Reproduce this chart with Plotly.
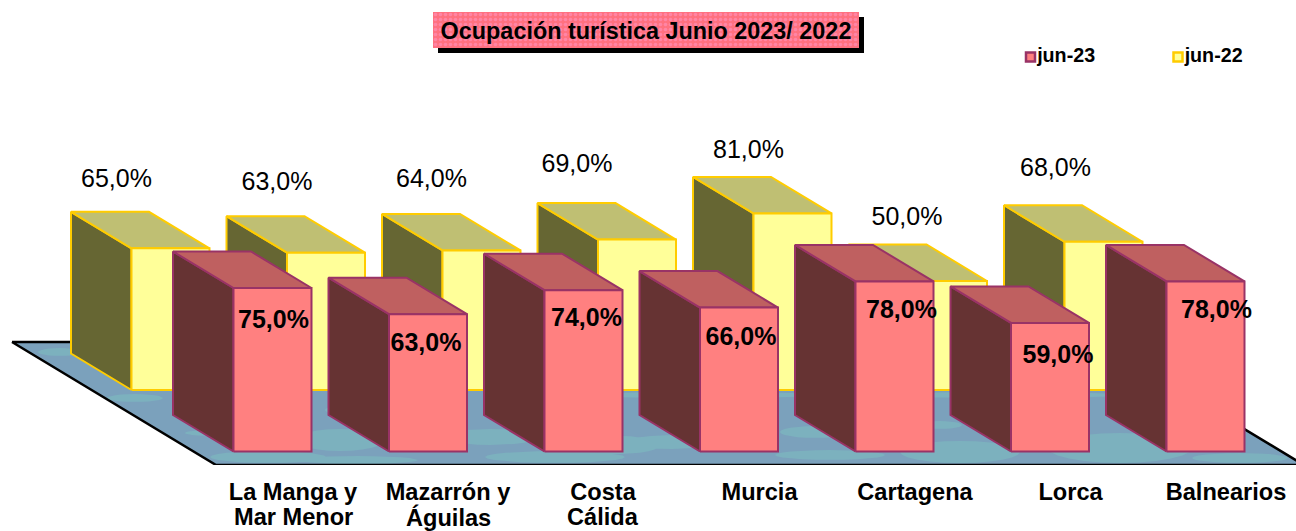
import math
import plotly.graph_objects as go

# ---- data ----
categories_line1 = ["La Manga y", "Mazarrón y", "Costa", "Murcia", "Cartagena", "Lorca", "Balnearios"]
categories_line2 = ["Mar Menor", "Águilas", "Cálida", "", "", "", ""]
jun_23 = [75, 63, 74, 66, 78, 59, 78]
jun_22 = [65, 63, 64, 69, 81, 50, 68, None]
series_names = ["jun-23", "jun-22"]
title_text = "Ocupación turística Junio 2023/ 2022"

# ---- geometry of the oblique projection (pixels of the 1296x531 canvas) ----
W, H = 1296, 531
AXIS_PY = 465            # pixel row of the plot's bottom edge / front floor edge
BASE_PY = 451.5          # pixel row of value 0 of the front series
SLOT0_PX = 293           # pixel column of first category centre
SLOT_PX = 155.5          # category step
PX_PER_PCT = 2.18


def X(px):
    return (px - SLOT0_PX) / SLOT_PX


def Y(py):
    return (BASE_PY - py) / PX_PER_PCT


DX_UNIT = 1 / SLOT_PX
DY_UNIT = 1 / PX_PER_PCT
BAR_LEFT = -59.5 * DX_UNIT
BAR_W = 78 * DX_UNIT
DEPTH_X = -60.5 * DX_UNIT
DEPTH_Y = 36.5 * DY_UNIT
BACK_X = -102 * DX_UNIT
BACK_Y = 61.5 * DY_UNIT

tick_nudge = [0, -0.5, -1, 0, 0, 0, 0]
front_label_px = [(1, 34), (-2, 31), (3, 30), (2, 31), (7, 30), (8, 34), (11, 30)]
back_label_px = [(-57, -31), (-52, -32), (-53, -33), (-63, -37), (-47, -25), (-44, -26), (-51, -36)]

PALETTE = {
    "jun-23": dict(front="#FF8080", side="#663333", top="#BF6060", line="#993366"),
    "jun-22": dict(front="#FFFF99", side="#666633", top="#BFBF73", line="#FFCC00"),
}

# mottled floor texture: (centre x, centre y, half width, half height) in pixels
floor_blobs = [
    (60, 352, 22, 4), (135, 398, 28, 4), (210, 433, 25, 3), (268, 457, 58, 6),
    (340, 440, 45, 11), (358, 460, 60, 4), (490, 437, 48, 8), (555, 457, 70, 6),
    (620, 445, 40, 9), (672, 442, 42, 7), (815, 432, 35, 6), (830, 455, 55, 5),
    (960, 452, 60, 11), (940, 425, 22, 4), (1120, 448, 72, 15), (1240, 458, 48, 5),
    (700, 395, 130, 3), (1000, 395, 130, 3), (350, 410, 25, 5),
]

fig = go.Figure()

# ---- floor ----
floor_x = [X(12), X(1100), X(1304), X(216), X(12)]
floor_y = [Y(342), Y(342), Y(465), Y(465), Y(342)]
fig.add_trace(go.Scatter(x=floor_x, y=floor_y, mode="lines", fill="toself", fillcolor="#7BA1BC",
                         line=dict(width=0), hoverinfo="skip", showlegend=False, cliponaxis=False))
blob_x, blob_y = [], []
for cx, cy, hw, hh in floor_blobs:
    for k in range(25):
        a = 2 * math.pi * k / 24
        blob_x.append(X(cx + hw * math.cos(a)))
        blob_y.append(Y(cy + hh * math.sin(a)))
    blob_x.append(None)
    blob_y.append(None)
fig.add_trace(go.Scatter(x=blob_x, y=blob_y, mode="lines", fill="toself", fillcolor="#7CB1BE",
                         line=dict(width=0), hoverinfo="skip", showlegend=False, cliponaxis=False))
fig.add_trace(go.Scatter(x=floor_x, y=floor_y, mode="lines", line=dict(color="#000000", width=2.5),
                         hoverinfo="skip", showlegend=False, cliponaxis=False))


# ---- 3D boxes ----
def add_boxes(values, dx, dy, colors, name):
    side_x, side_y, top_x, top_y, front_x, front_y = [], [], [], [], [], []
    for i, v in enumerate(values):
        if v is None:
            continue
        l = i + BAR_LEFT + dx
        r = l + BAR_W
        b = dy
        t = dy + v
        side_x += [l, l + DEPTH_X, l + DEPTH_X, l, l, None]
        side_y += [b, b + DEPTH_Y, t + DEPTH_Y, t, b, None]
        top_x += [l, l + DEPTH_X, r + DEPTH_X, r, l, None]
        top_y += [t, t + DEPTH_Y, t + DEPTH_Y, t, t, None]
        front_x += [l, l, r, r, l, None]
        front_y += [b, t, t, b, b, None]
    for xs, ys, c in ((side_x, side_y, colors["side"]), (top_x, top_y, colors["top"]),
                      (front_x, front_y, colors["front"])):
        fig.add_trace(go.Scatter(x=xs, y=ys, mode="lines", fill="toself", fillcolor=c,
                                 line=dict(color=colors["line"], width=2), name=name,
                                 showlegend=False, hoverinfo="skip", cliponaxis=False))


add_boxes(jun_22, BACK_X, BACK_Y, PALETTE["jun-22"], "jun-22")
add_boxes(jun_23, 0, 0, PALETTE["jun-23"], "jun-23")

# ---- data labels ----
idx22 = [i for i, v in enumerate(jun_22) if v is not None]
fig.add_trace(go.Scatter(
    x=[i - 102.5 * DX_UNIT + BAR_LEFT + DEPTH_X + (back_label_px[i][0] + 103) * DX_UNIT for i in idx22],
    y=[jun_22[i] + BACK_Y + DEPTH_Y - back_label_px[i][1] * DY_UNIT for i in idx22],
    mode="text", text=[f"{jun_22[i]:.1f}%".replace(".", ",") for i in idx22],
    textfont=dict(family="Liberation Sans", size=25, color="#000000"),
    textposition="middle center", showlegend=False, hoverinfo="skip", cliponaxis=False))
fig.add_trace(go.Scatter(
    x=[i + BAR_LEFT + BAR_W / 2 + front_label_px[i][0] * DX_UNIT for i in range(7)],
    y=[jun_23[i] - front_label_px[i][1] * DY_UNIT for i in range(7)],
    mode="text", text=[f"{v:.1f}%".replace(".", ",") for v in jun_23],
    textfont=dict(family="Liberation Sans", size=25, color="#000000", weight="bold"),
    textposition="middle center", showlegend=False, hoverinfo="skip", cliponaxis=False))

# ---- legend ----
for name, px in zip(series_names, (1030.5, 1178)):
    c = PALETTE[name]
    fig.add_trace(go.Scatter(
        x=[X(px)], y=[Y(57)], mode="markers+text", text=[name], textposition="middle right",
        marker=dict(symbol="square", size=9, color=c["front"], line=dict(color=c["line"], width=2.5)),
        textfont=dict(family="Liberation Sans", size=19.7, color="#000000", weight="bold"),
        showlegend=False, hoverinfo="skip", cliponaxis=False))

# ---- title plate ----
fig.add_trace(go.Bar(x=[0.5], y=[1], width=[1], xaxis="x2", yaxis="y2", showlegend=False, hoverinfo="skip",
                     marker=dict(color="#FF7080", line=dict(width=0),
                                 pattern=dict(shape=".", fgcolor="#FF99CC", bgcolor="#FF7080", size=5, solidity=0.4))))

tick_positions = [i + tick_nudge[i] * DX_UNIT for i in range(7)]
tick_font = dict(family="Liberation Sans", size=23.6, color="#000000", weight="bold")

fig.update_layout(
    width=W, height=H, margin=dict(l=0, r=0, t=0, b=H - AXIS_PY, pad=0),
    autosize=False, paper_bgcolor="#FFFFFF", plot_bgcolor="#FFFFFF", showlegend=False,
    title=dict(text=title_text, x=646 / W, xanchor="center", y=1 - 31 / H, yanchor="middle",
               font=dict(family="Liberation Sans", size=23.4, color="#000000", weight="bold")),
    xaxis=dict(range=[X(0), X(W)], showgrid=False, zeroline=False, showline=False, ticks="",
               tickmode="array", tickvals=tick_positions, ticktext=categories_line1, ticklabelstandoff=10,
               tickfont=tick_font),
    yaxis=dict(range=[Y(AXIS_PY), Y(0)], visible=False),
    xaxis2=dict(domain=[433 / W, 859 / W], range=[0, 1], visible=False, anchor="y2"),
    yaxis2=dict(domain=[(AXIS_PY - 48) / AXIS_PY, (AXIS_PY - 12) / AXIS_PY], range=[0, 1], visible=False, anchor="x2"),
    shapes=[dict(type="rect", xref="x", yref="y", x0=X(438), x1=X(864), y0=Y(53), y1=Y(17),
                 fillcolor="#000000", line=dict(width=0), layer="below")],
    annotations=[dict(text=t, x=p, y=(AXIS_PY - 517) / AXIS_PY, xref="x", yref="paper", showarrow=False, font=tick_font,
                      xanchor="center", yanchor="middle")
                 for t, p in zip(categories_line2, tick_positions) if t],
)

fig.write_html("out.html", config=dict(displayModeBar=False),
               post_script="document.body.style.margin='0';document.documentElement.style.overflow='hidden';")
